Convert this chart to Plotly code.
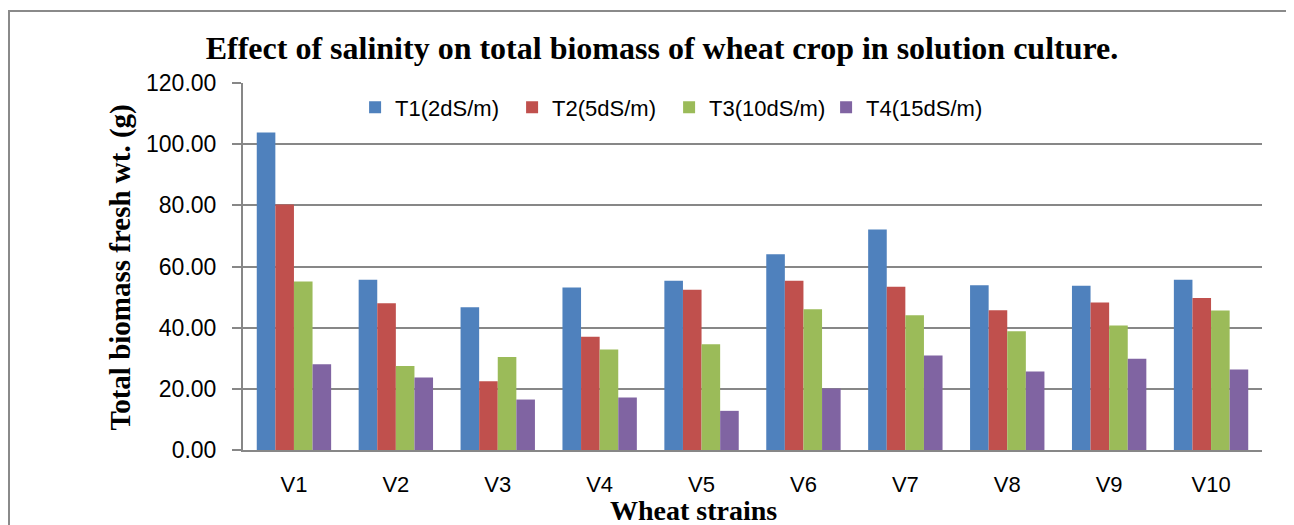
import plotly.graph_objects as go

categories = ["V1", "V2", "V3", "V4", "V5", "V6", "V7", "V8", "V9", "V10"]
t1 = [103.8, 55.7, 46.7, 53.1, 55.3, 64.0, 72.1, 53.9, 53.7, 55.7]
t2 = [80.3, 48.0, 22.5, 37.0, 52.4, 55.3, 53.4, 45.7, 48.2, 49.7]
t3 = [55.1, 27.5, 30.4, 32.9, 34.6, 46.0, 44.1, 38.8, 40.7, 45.6]
t4 = [28.0, 23.7, 16.5, 17.2, 12.8, 20.1, 30.9, 25.7, 29.8, 26.3]
series_names = ["T1(2dS/m)", "T2(5dS/m)", "T3(10dS/m)", "T4(15dS/m)"]
colors = ["#4F81BD", "#C0504D", "#9BBB59", "#8064A2"]
y_ticks = [0, 20, 40, 60, 80, 100, 120]

fig = go.Figure()
for name, vals, col in zip(series_names, [t1, t2, t3, t4], colors):
    fig.add_trace(go.Bar(x=categories, y=vals, name=name, marker_color=col,
                         marker_line_width=0))

grid = "#878787"
sans = "Liberation Sans, Arial, sans-serif"
serif = "Liberation Serif, Times New Roman, serif"

# page offset of 8px (browser body margin) is accounted for in size/margins
fig.update_layout(
    width=1286, height=517,
    margin=dict(l=235, r=32, t=75, b=75),
    paper_bgcolor="white", plot_bgcolor="white",
    barmode="group", bargap=0.27, bargroupgap=0,
    title=dict(text="<b>Effect of salinity on total biomass of wheat crop in solution culture.</b>",
               font=dict(family=serif, size=32, color="black"),
               xref="paper", x=(662 - 243) / 1019, xanchor="center",
               yref="container", y=1 - 40 / 517, yanchor="middle"),
    legend=dict(orientation="h", x=0.11, xanchor="left", y=(450 - 107.5) / 367, yanchor="middle",
                font=dict(family=sans, size=22, color="black"),
                itemwidth=30, entrywidth=112, entrywidthmode="pixels",
                bgcolor="rgba(0,0,0,0)"),
    showlegend=True,
    font=dict(family=sans, color="black"),
)

fig.update_yaxes(range=[0, 120], tickvals=y_ticks, ticktext=[f"{v:.2f}" for v in y_ticks],
                 showgrid=True, gridcolor=grid, gridwidth=2,
                 showline=True, linecolor=grid, linewidth=2,
                 ticks="outside", ticklen=9, tickcolor=grid, tickwidth=2,
                 ticklabelstandoff=11, zeroline=False,
                 tickfont=dict(family=sans, size=23, color="black"))
fig.update_xaxes(showline=True, linecolor=grid, linewidth=2, ticks="",
                 ticklabelstandoff=14,
                 tickfont=dict(family=sans, size=22, color="black"))

fig.add_annotation(text="<b>Total biomass fresh wt. (g)</b>", textangle=-90,
                   xref="paper", yref="paper", x=(120 - 243) / 1019, y=(450 - 267.5) / 367,
                   xanchor="center", yanchor="middle", showarrow=False,
                   font=dict(family=serif, size=29, color="black"))
fig.add_annotation(text="<b>Wheat strains</b>",
                   xref="paper", yref="paper", x=(693 - 243) / 1019, y=(450 - 511) / 367,
                   xanchor="center", yanchor="middle", showarrow=False,
                   font=dict(family=serif, size=28, color="black"))

fig.add_shape(type="rect", xref="paper", yref="paper",
              x0=(9 - 243) / 1019, x1=(1320 - 243) / 1019,
              y0=(450 - 560) / 367, y1=(450 - 11) / 367,
              line=dict(color="#8a8a8a", width=2), fillcolor="rgba(0,0,0,0)", layer="below")

fig.write_html("out.html")
